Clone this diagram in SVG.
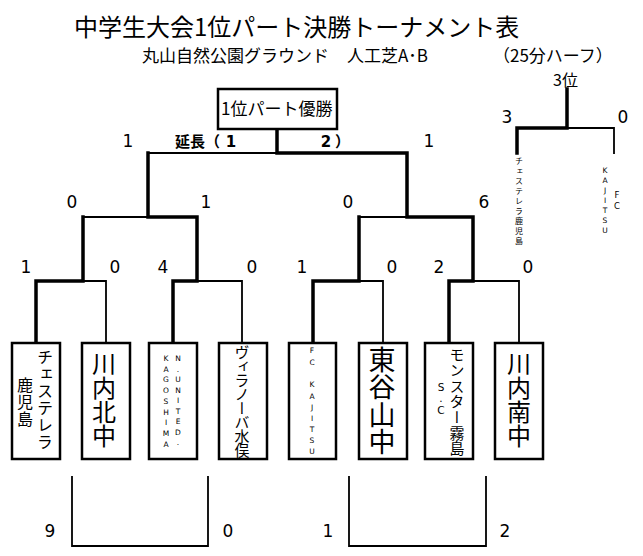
<svg xmlns="http://www.w3.org/2000/svg" width="643" height="556" viewBox="0 0 643 556">
<style>
.bg{fill:#fff}
.box{fill:#fff;stroke:#000;stroke-width:2.5}
.thick{fill:none;stroke:#000;stroke-width:3.5;stroke-linejoin:miter;stroke-linecap:square}
.thin{fill:none;stroke:#000;stroke-width:1.8;stroke-linejoin:miter;stroke-linecap:square}
.jp{font-family:"Noto Sans CJK JP","Noto Sans CJK SC",sans-serif;fill:#000}
.vt{font-family:"Noto Sans CJK JP","Noto Sans CJK SC",sans-serif;fill:#000;writing-mode:vertical-rl}
.num{font-family:"DejaVu Sans",sans-serif;font-size:17px;fill:#000;text-anchor:middle}
.lat{font-family:"DejaVu Sans",sans-serif;font-size:7.5px;fill:#000;text-anchor:middle}
</style>
<rect class="bg" x="0" y="0" width="643" height="556"/>
<g id="title">
<text class="jp" x="74" y="35.5" font-size="24">中学生大会1位パート決勝トーナメント表</text>
<text class="jp" x="142" y="62" font-size="17">丸山自然公園グラウンド</text>
<text class="jp" x="347" y="62" font-size="17">人工芝A･B</text>
<text class="jp" x="493" y="62" font-size="17">（25分ハーフ）</text>
</g>
<g id="connectors">
<polyline class="thick" points="36,343 36,281 83,281 83,217"/>
<polyline class="thick" points="173,343 173,281 197,281 197,217 148,217 148,153"/>
<polyline class="thin" points="106,343 106,281 83,281"/>
<polyline class="thin" points="242,343 242,281 197,281"/>
<polyline class="thin" points="83,217 148,217"/>
<polyline class="thin" points="148,153 277,153"/>
<polyline class="thick" points="313,343 313,281 359,281 359,217"/>
<polyline class="thick" points="449,343 449,281 473,281 473,217 407,217 407,153 277,153 277,129"/>
<polyline class="thin" points="383,343 383,281 359,281"/>
<polyline class="thin" points="519,343 519,281 473,281"/>
<polyline class="thin" points="359,217 407,217"/>
<polyline class="thick" points="517,153 517,128 567,128 567,89"/>
<polyline class="thin" points="567,128 614,128 614,153"/>
<polyline class="thin" points="72,477 72,546 208,546 208,477"/>
<polyline class="thin" points="349,477 349,546 486,546 486,477"/>
</g>
<g id="champion">
<rect class="box" x="218" y="89" width="119" height="40"/>
<text class="jp" x="221" y="115" font-size="17">1位パート優勝</text>
</g>
<g id="scores">
<text class="num" x="128" y="147">1</text>
<text class="num" x="429" y="147">1</text>
<text class="jp" x="175" y="147" font-size="15" font-weight="bold">延長（</text>
<text class="num" x="231" y="147" style="font-size:15px;font-weight:bold">1</text>
<text class="num" x="326" y="147" style="font-size:15px;font-weight:bold">2</text>
<text class="jp" x="335" y="147" font-size="15" font-weight="bold">）</text>
<text class="num" x="72" y="208">0</text>
<text class="num" x="206" y="208">1</text>
<text class="num" x="348" y="208">0</text>
<text class="num" x="484" y="208">6</text>
<text class="num" x="26" y="273">1</text>
<text class="num" x="115" y="273">0</text>
<text class="num" x="163" y="273">4</text>
<text class="num" x="252" y="273">0</text>
<text class="num" x="302" y="273">1</text>
<text class="num" x="392" y="273">0</text>
<text class="num" x="439" y="273">2</text>
<text class="num" x="528" y="273">0</text>
<text class="num" x="507" y="123">3</text>
<text class="num" x="623" y="123">0</text>
<text class="num" x="50" y="537">9</text>
<text class="num" x="228" y="537">0</text>
<text class="num" x="328" y="537">1</text>
<text class="num" x="505" y="537">2</text>
</g>
<g id="third-place">
<text class="jp" x="553" y="86" font-size="16">3位</text>
<text class="vt" x="519" y="157" font-size="8" letter-spacing="2">チェステレラ鹿児島</text>
<text class="lat"><tspan x="605" y="173">K</tspan><tspan x="605" y="183">A</tspan><tspan x="605" y="193">J</tspan><tspan x="605" y="203">I</tspan><tspan x="605" y="213">T</tspan><tspan x="605" y="223">S</tspan><tspan x="605" y="233">U</tspan></text>
<text class="lat" style="font-size:8.5px"><tspan x="617" y="197.5">F</tspan><tspan x="617" y="208.5">C</tspan></text>
</g>
<g id="team1">
<rect class="box" x="12" y="343" width="48" height="116"/>
<text class="vt" x="45" y="349" font-size="16" letter-spacing="1">チェステレラ</text>
<text class="vt" x="25" y="377" font-size="16" letter-spacing="1">鹿児島</text>
</g>
<g id="team2">
<rect class="box" x="82" y="343" width="48" height="116"/>
<text class="vt" x="104" y="352" font-size="24">川内北中</text>
</g>
<g id="team3">
<rect class="box" x="149" y="343" width="48" height="116"/>
<text class="lat"><tspan x="178" y="361">N</tspan><tspan x="178" y="371.5">.</tspan><tspan x="178" y="382">U</tspan><tspan x="178" y="392.5">N</tspan><tspan x="178" y="403">I</tspan><tspan x="178" y="413.5">T</tspan><tspan x="178" y="424">E</tspan><tspan x="178" y="434.5">D</tspan><tspan x="178" y="445">.</tspan></text>
<text class="lat"><tspan x="166" y="361">K</tspan><tspan x="166" y="371.7">A</tspan><tspan x="166" y="382.4">G</tspan><tspan x="166" y="393.1">O</tspan><tspan x="166" y="403.8">S</tspan><tspan x="166" y="414.5">H</tspan><tspan x="166" y="425.2">I</tspan><tspan x="166" y="435.9">M</tspan><tspan x="166" y="446.6">A</tspan></text>
</g>
<g id="team4">
<rect class="box" x="219" y="343" width="48" height="116"/>
<text class="vt" x="242" y="345" font-size="15" letter-spacing="-1">ヴィラノーバ水俣</text>
</g>
<g id="team5">
<rect class="box" x="289" y="343" width="47" height="116"/>
<text class="lat"><tspan x="312" y="353">F</tspan><tspan x="312" y="365">C</tspan><tspan x="312" y="386.5">K</tspan><tspan x="312" y="398.5">A</tspan><tspan x="312" y="410">J</tspan><tspan x="312" y="420.5">I</tspan><tspan x="312" y="431.5">T</tspan><tspan x="312" y="442.5">S</tspan><tspan x="312" y="453.5">U</tspan></text>
</g>
<g id="team6">
<rect class="box" x="359" y="343" width="48" height="116"/>
<text class="vt" x="382" y="346" font-size="27" letter-spacing="0.5">東谷山中</text>
</g>
<g id="team7">
<rect class="box" x="425" y="343" width="48" height="116"/>
<text class="vt" x="457" y="347" font-size="15" letter-spacing="0.7">モンスター霧島</text>
<text class="lat" style="font-size:10.5px"><tspan x="441" y="391">S</tspan><tspan x="441" y="402">.</tspan><tspan x="441" y="414">C</tspan></text>
</g>
<g id="team8">
<rect class="box" x="495" y="343" width="48" height="116"/>
<text class="vt" x="519" y="352" font-size="24">川内南中</text>
</g>
</svg>
